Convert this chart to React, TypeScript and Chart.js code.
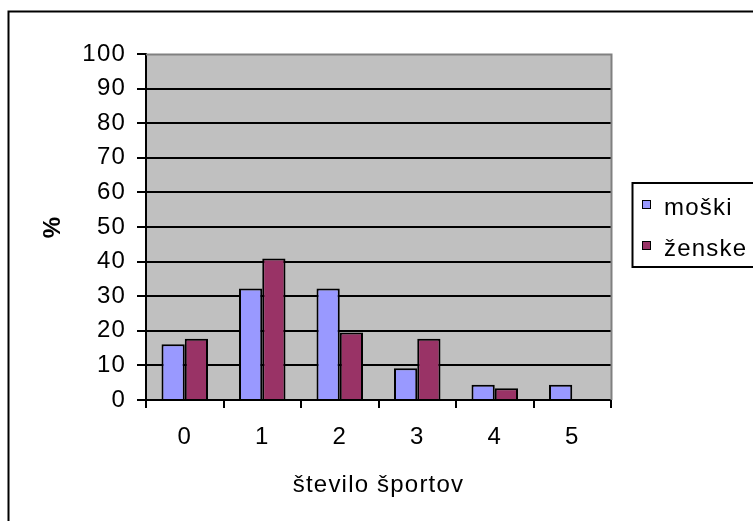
import React, { useEffect, useRef } from "react";
import { Chart, registerables } from "chart.js";

Chart.register(...registerables);

// Share of respondents (%) by number of sports practised
const categories = ["0", "1", "2", "3", "4", "5"];
const moski = [16.1, 32.2, 32.2, 9.2, 4.4, 4.4];
const zenske = [17.7, 40.9, 19.5, 17.7, 3.4, 0];
const seriesLabels = ["moški", "ženske"];
const seriesColors = ["#9999FF", "#993366"];
const yMin = 0;
const yMax = 100;
const yStep = 10;

const FAMILY = "'Liberation Sans', Arial, Helvetica, sans-serif";
const FONT_SIZE = 24;
const LETTER_SPACING = "1.2px";

const framePlugin = {
  id: "frame",
  beforeDraw(chart: any) {
    const { ctx, chartArea: a } = chart;
    ctx.save();
    ctx.fillStyle = "#ffffff";
    ctx.fillRect(0, 0, chart.width, chart.height);
    // plot area fill
    ctx.fillStyle = "#C0C0C0";
    ctx.fillRect(a.left, a.top, a.right - a.left, a.bottom - a.top);
    // outer chart frame (left and top edges)
    ctx.strokeStyle = "#000000";
    ctx.lineWidth = 2;
    ctx.beginPath();
    ctx.moveTo(8.5, chart.height + 4);
    ctx.lineTo(8.5, 11.5);
    ctx.lineTo(chart.width + 4, 11.5);
    ctx.stroke();
    ctx.restore();
    // slightly wider text for all labels
    ctx.letterSpacing = LETTER_SPACING;
  },
  afterDraw(chart: any) {
    const { ctx, chartArea: a } = chart;
    ctx.save();
    // plot area border (top and right edges)
    ctx.strokeStyle = "#808080";
    ctx.lineWidth = 2;
    ctx.beginPath();
    ctx.moveTo(a.left, a.top + 0.5);
    ctx.lineTo(a.right + 0.5, a.top + 0.5);
    ctx.lineTo(a.right + 0.5, a.bottom);
    ctx.stroke();

    // legend
    const boxLeft = 632.5;
    const boxTop = 183;
    const boxHeight = 84;
    ctx.strokeStyle = "#000000";
    ctx.lineWidth = 2;
    ctx.strokeRect(boxLeft, boxTop, chart.width - boxLeft + 10, boxHeight);
    ctx.font = `${FONT_SIZE}px ${FAMILY}`;
    ctx.letterSpacing = LETTER_SPACING;
    ctx.textBaseline = "alphabetic";
    ctx.textAlign = "left";
    const baselines = [215, 256];
    chart.data.datasets.forEach((ds: any, i: number) => {
      const base = baselines[i];
      const sq = 9;
      const sx = 642;
      const sy = base - 15;
      ctx.fillStyle = ds.backgroundColor;
      ctx.fillRect(sx, sy, sq, sq);
      ctx.lineWidth = 1;
      ctx.strokeStyle = "#000000";
      ctx.strokeRect(sx + 0.5, sy + 0.5, sq - 1, sq - 1);
      ctx.fillStyle = "#000000";
      ctx.fillText(ds.label, 664, base);
    });
    ctx.restore();
  },
};

export default function App() {
  const ref = useRef<HTMLCanvasElement>(null);

  useEffect(() => {
    const canvas = ref.current;
    if (!canvas) return;
    const font = { family: FAMILY, size: FONT_SIZE };
    const chart = new Chart(canvas, {
      type: "bar",
      data: {
        labels: categories,
        datasets: [
          {
            label: seriesLabels[0],
            data: moski,
            backgroundColor: seriesColors[0],
            borderColor: "#000000",
            borderWidth: 2,
            categoryPercentage: 0.6,
            barPercentage: 1,
          },
          {
            label: seriesLabels[1],
            data: zenske,
            backgroundColor: seriesColors[1],
            borderColor: "#000000",
            borderWidth: 2,
            categoryPercentage: 0.6,
            barPercentage: 1,
          },
        ],
      },
      options: {
        responsive: false,
        animation: false,
        devicePixelRatio: 1,
        layout: { padding: { left: 0, top: 54, right: 142, bottom: 0 } },
        plugins: {
          legend: { display: false },
          tooltip: { enabled: false },
          title: { display: false },
        },
        scales: {
          x: {
            grid: {
              drawOnChartArea: false,
              drawTicks: true,
              tickLength: 8,
              offset: true,
              color: "#000000",
              lineWidth: 2,
            },
            border: { display: true, color: "#000000", width: 2 },
            ticks: { color: "#000000", font, padding: 15 },
            title: {
              display: true,
              text: "število športov",
              color: "#000000",
              font,
              padding: { top: 0, bottom: 21 },
            },
            afterFit: (s: any) => {
              s.height = 121;
            },
          },
          y: {
            min: yMin,
            max: yMax,
            grid: {
              color: (c: any) =>
                c.tick && c.tick.value === yMax ? "rgba(0,0,0,0)" : "#000000",
              tickColor: "#000000",
              lineWidth: 2,
              tickLength: 9,
            },
            border: { display: true, color: "#000000", width: 2 },
            ticks: { stepSize: yStep, color: "#000000", font, padding: 11 },
            title: {
              display: true,
              text: "%",
              color: "#000000",
              font: { family: FAMILY, size: FONT_SIZE, weight: "bold" },
              padding: { top: 39, bottom: 0 },
            },
            afterFit: (s: any) => {
              s.width = 146;
            },
          },
        },
      },
      plugins: [framePlugin],
    });
    return () => chart.destroy();
  }, []);

  return (
    <div
      style={{
        position: "fixed",
        left: 0,
        top: 0,
        width: 753,
        height: 521,
        background: "#ffffff",
      }}
    >
      <canvas
        ref={ref}
        width={753}
        height={521}
        style={{ display: "block", width: 753, height: 521 }}
      />
    </div>
  );
}
